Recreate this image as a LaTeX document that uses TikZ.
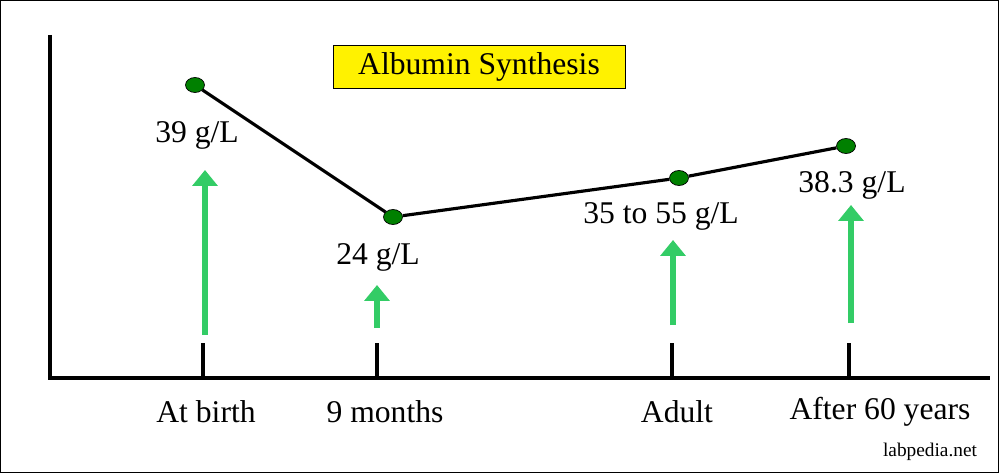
\documentclass[tikz,border=0pt]{standalone}
\usepackage{fontspec}
\setmainfont{Liberation Serif}
\usetikzlibrary{arrows.meta,shapes.geometric}
\begin{document}
\begin{tikzpicture}[x=0.02cm,y=-0.02cm,
  lab/.style={font=\fontsize{18}{20}\selectfont},
  dot/.style={ellipse,draw=black,fill=green!50!black,minimum width=0.38cm,minimum height=0.3cm,inner sep=0pt},
  up/.style={draw={rgb,255:red,51;green,204;blue,102},line width=3.4pt,-{Triangle[length=9pt,width=14pt]}},
  tick/.style={line width=1.8pt}]
\useasboundingbox (0,0) rectangle (999,473);
\draw[line width=0.8pt] (0.5,0.5) rectangle (998.5,472.5);
\coordinate (top) at (50,35);
\coordinate (org) at (50,378);
\coordinate (right) at (990,378);
\draw[line width=2pt] (top) -- (org) -- (right);
\foreach \x/\n in {203/a,377/b,672/c,849/d}{
  \coordinate (t\n) at (\x,343); \coordinate (b\n) at (\x,378);
  \draw[tick] (t\n) -- (b\n);}
\node[draw=black,fill=yellow,minimum width=5.84cm,minimum height=0.86cm,lab] (title) at (479,67) {Albumin Synthesis};
\node[dot] (p1) at (195,85) {};
\node[dot] (p2) at (393,217) {};
\node[dot] (p3) at (679,178) {};
\node[dot] (p4) at (846,146) {};
\draw[line width=1.8pt] (p1) -- (p2) -- (p3) -- (p4);
\foreach \n/\x/\a/\b in {1/205/335/170,2/377/328/285,3/673/325/240,4/851/323/205}{
  \coordinate (s\n) at (\x,\a); \coordinate (e\n) at (\x,\b);
  \draw[up] (s\n) -- (e\n);}
\node[lab] (l1) at (197,135) {39 g/L};
\node[lab] (l2) at (378,257) {24 g/L};
\node[lab] (l3) at (661,216) {35 to 55 g/L};
\node[lab] (l4) at (852,185) {38.3 g/L};
\node[lab] (x1) at (206,412) {At birth};
\node[lab] (x2) at (385,412) {9 months};
\node[lab] (x3) at (677,412) {Adult};
\node[lab] (x4) at (880,412) {After 60 years};
\node[font=\fontsize{11}{13}\selectfont] (w) at (930,452) {labpedia.net};
\end{tikzpicture}
\end{document}
